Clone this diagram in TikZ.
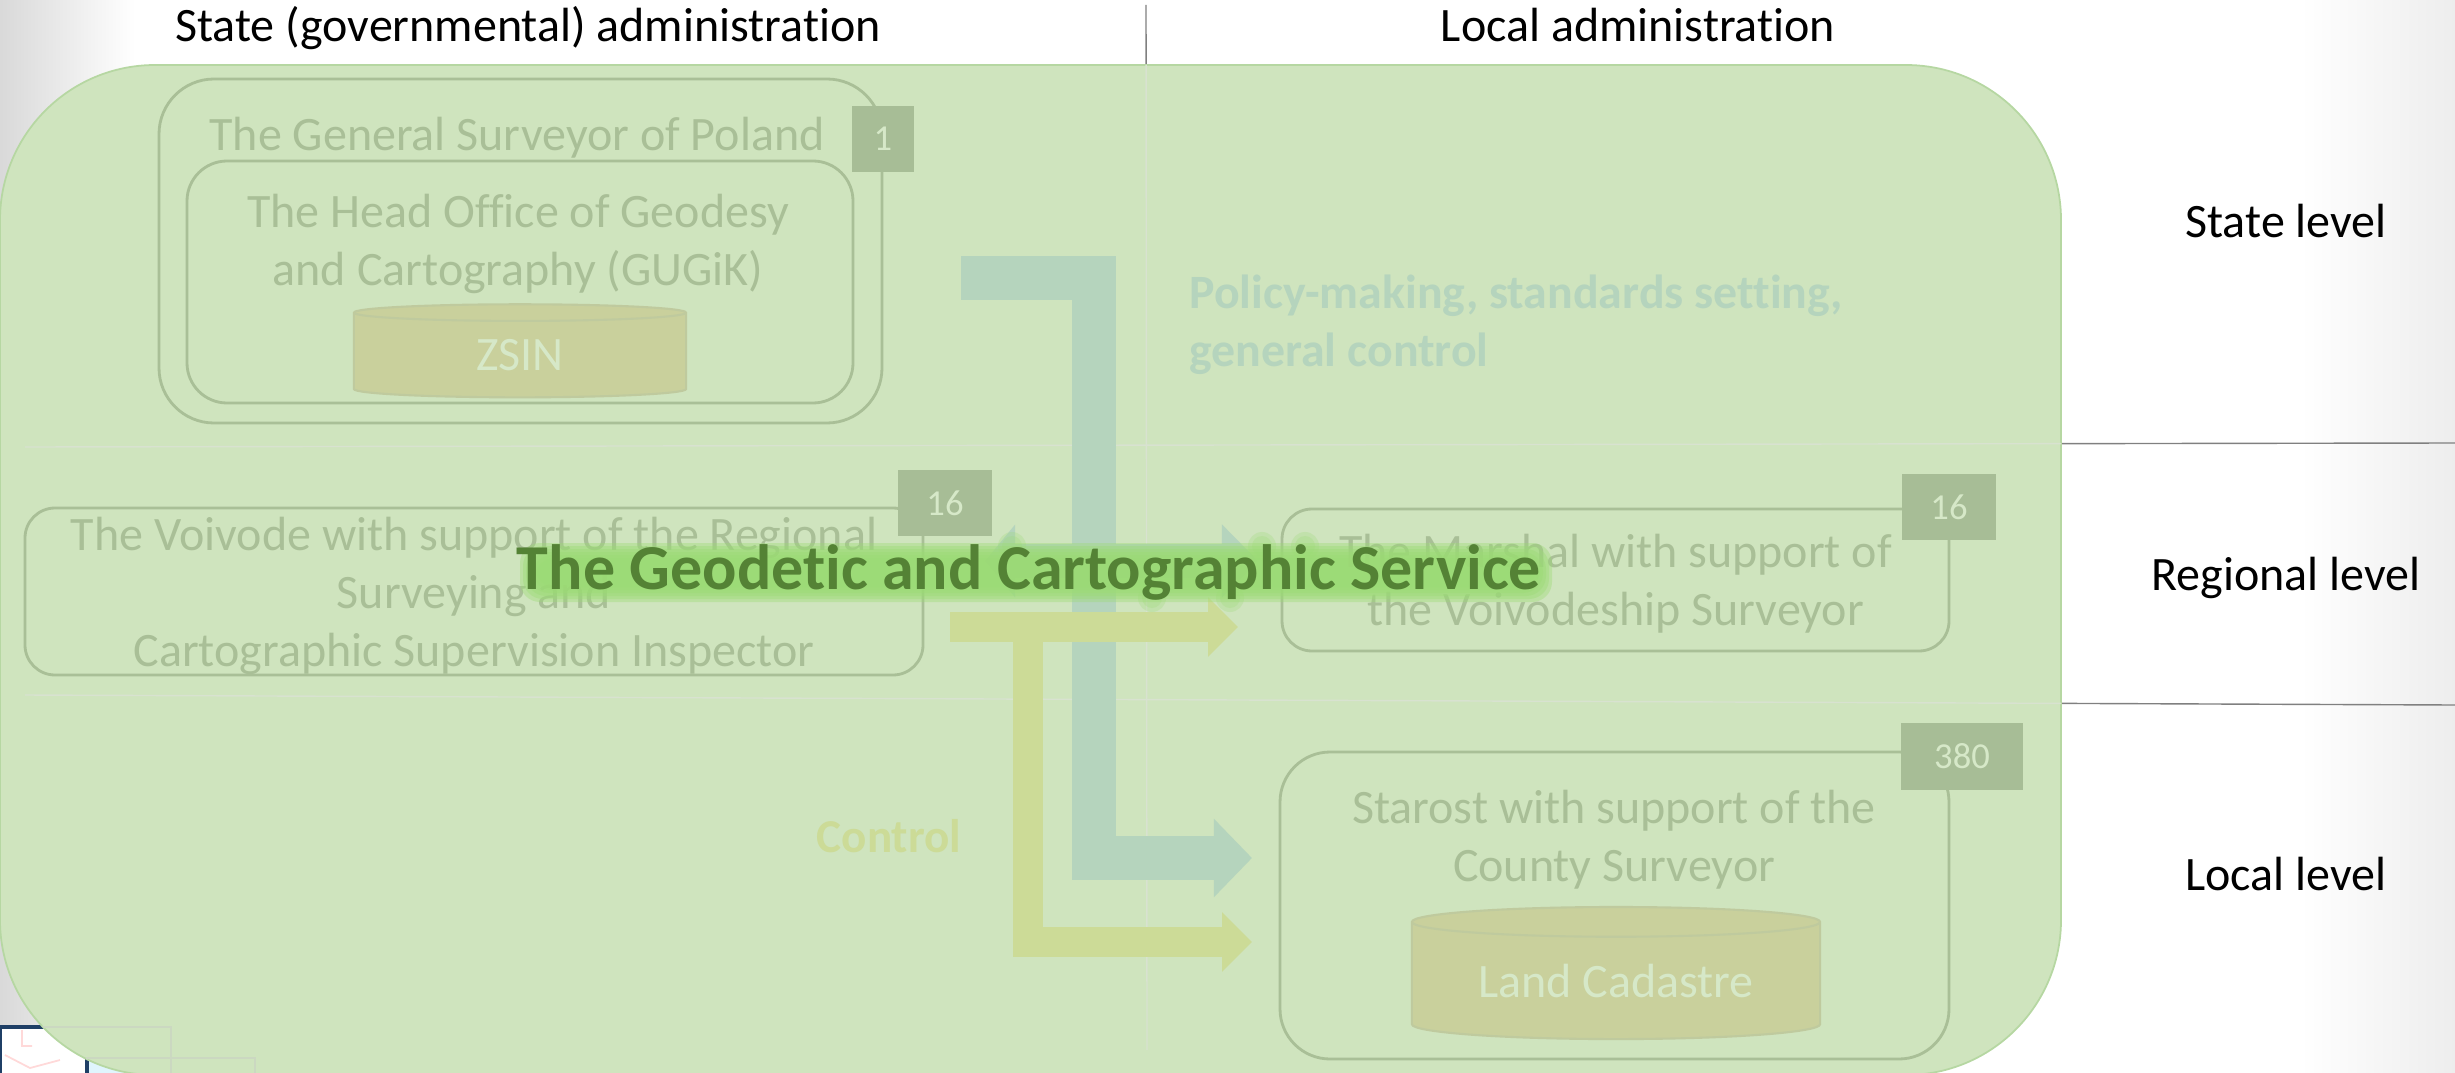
\documentclass[tikz,border=0pt]{standalone}
\usepackage{fontspec}
\setmainfont[Ligatures=NoCommon]{Carlito}
\usetikzlibrary{arrows.meta,shapes.geometric}
\definecolor{panelgreen}{HTML}{CFE4BE}
\definecolor{paneledge}{HTML}{B6D7A2}
\definecolor{fadedtext}{HTML}{A9BF97}
\definecolor{badgegreen}{HTML}{A7BD96}
\definecolor{badgetext}{HTML}{D6E8C8}
\definecolor{drumfill}{HTML}{C9D09C}
\definecolor{drumedge}{HTML}{BFCA9E}
\definecolor{policyteal}{HTML}{B5D4BD}
\definecolor{controlyellow}{HTML}{CCDB97}
\definecolor{titlegreen}{HTML}{548235}
\definecolor{glowgreen}{HTML}{9BDB74}
\definecolor{thumbnavy}{HTML}{1F3F66}
\tikzset{
  bodyfont/.style={font=\fontsize{13.65}{16.5}\selectfont},
  headtext/.style={bodyfont, text=black},
  fadetext/.style={bodyfont, text=fadedtext, align=center},
  officebox/.style={draw=fadedtext, line width=0.8pt},
  countbadge/.style={fill=badgegreen, draw=none},
  counttext/.style={font=\fontsize{10.4}{12}\selectfont, text=badgetext},
  drum/.style={cylinder, shape border rotate=90, draw=drumedge, line width=0.6pt,
    cylinder uses custom fill, cylinder body fill=drumfill, cylinder end fill=drumfill,
    inner sep=0pt, bodyfont, text=badgetext},
  policyarrow/.style={draw=policyteal, line width=0.44cm, -{Triangle[length=0.38cm,width=0.76cm]}},
  controlarrow/.style={draw=controlyellow, line width=0.3cm, -{Triangle[length=0.3cm,width=0.58cm]}},
}
\begin{document}
\begin{tikzpicture}[x=0.01cm,y=-0.01cm]
  \useasboundingbox (0,0) rectangle (2455,1073);
  \clip (0,0) rectangle (2455,1073);
  % page behind the panel
  \fill[left color=black!15, right color=white] (0,0) rectangle (135,1073);
  \fill[left color=white, right color=black!7] (2300,0) rectangle (2455,1073);
  \draw[thumbnavy, line width=1pt, fill=white] (0,1027) rectangle (171,1090);
  \draw[red!15, line width=0.5pt] (5,1055) -- (30,1068) -- (60,1060) (22,1030) -- (22,1046) -- (32,1046);
  \draw[thumbnavy, line width=1pt, fill=cyan!12] (87,1058) rectangle (255,1090);
  \coordinate (vtop) at (1146,5);
  \coordinate (vend) at (1147,1050);
  \coordinate (statewest) at (25,447);
  \coordinate (stateeast) at (2455,443);
  \coordinate (localwest) at (25,695);
  \coordinate (localeast) at (2455,705);
  \draw[black!50, line width=0.4pt] (vtop) -- (vend);
  \draw[black!50, line width=0.4pt] (statewest) -- (stateeast);
  \draw[black!50, line width=0.4pt] (localwest) -- (localeast);

  % panel
  \draw[fill=panelgreen, draw=paneledge, line width=0.5pt, rounded corners=1.55cm] (0,65) rectangle (2061,1075);
  \begin{scope}
    \clip[rounded corners=1.55cm] (0,65) rectangle (2061,1075);
    \draw[fadedtext!45, line width=0.4pt] (vtop) -- (vend);
    \draw[fadedtext!45, line width=0.4pt] (statewest) -- (stateeast);
    \draw[fadedtext!45, line width=0.4pt] (localwest) -- (localeast);
    \draw[fadedtext!60, line width=0.8pt] (0,1027) rectangle (171,1090);
    \draw[fadedtext!60, line width=0.8pt] (87,1058) rectangle (255,1090);
  \end{scope}

  \node[headtext] (statehead) at (528,28.5) {State (governmental) administration};
  \node[headtext] (localhead) at (1638,25.5) {Local administration};
  \node[headtext] (statelevel) at (2286,221) {State level};
  \node[headtext] (regionlevel) at (2286,578) {Regional level};
  \node[headtext] (locallevel) at (2286,874) {Local level};

  % state level
  \draw[officebox, rounded corners=0.55cm] (159,79) rectangle node[midway] (surveyorbox) {} (882,423);
  \draw[officebox, rounded corners=0.4cm] (187,161) rectangle node[midway] (gugikbox) {} (853,403);
  \node[fadetext] (surveyor) at (517,138) {The General Surveyor of Poland};
  \node[fadetext] (gugik) at (518,244) {The Head Office of Geodesy\\and Cartography (GUGiK)};
  \node[drum, aspect=0.19, minimum width=3.32cm, minimum height=0.93cm] (zsin) at (520,355.5) {ZSIN};
  \draw[countbadge] (852,106) rectangle node[midway, counttext] (surveyorcount) {1} (914,172);

  % regional level
  \draw[officebox, rounded corners=0.3cm] (25,508) rectangle
    node[midway, fadetext, yshift=-0.04cm] (voivode) {The Voivode with support of the Regional\\Surveying and\\Cartographic Supervision Inspector} (923,675);
  \draw[countbadge] (898,470) rectangle node[midway, counttext] (voivodecount) {16} (992,536);
  \draw[officebox, rounded corners=0.3cm] (1282,509) rectangle
    node[midway, fadetext, yshift=-0.04cm] (marshal) {The Marshal with support of\\the Voivodeship Surveyor} (1949,651);
  \draw[countbadge] (1902,474) rectangle node[midway, counttext] (marshalcount) {16} (1996,540);

  % local level
  \draw[officebox, rounded corners=0.5cm] (1280,752) rectangle node[midway] (starostbox) {} (1949,1059);
  \node[fadetext] (starost) at (1614,840) {Starost with support of the\\County Surveyor};
  \node[drum, aspect=0.108, minimum width=4.08cm, minimum height=1.32cm] (cadastre) at (1616,981) {Land Cadastre};
  \draw[countbadge] (1901,723) rectangle node[midway, counttext] (starostcount) {380} (2023,790);

  % arrows
  \coordinate (policystart) at (961,278);
  \coordinate (policybend) at (1094,278);
  \coordinate (policycorner) at (1094,858);
  \coordinate (policyend) at (1252,858);
  \coordinate (linkwest) at (985,561);
  \coordinate (linkeast) at (1258,561);
  \coordinate (controlstart) at (950,627);
  \coordinate (controlend) at (1238,627);
  \coordinate (controlbend) at (1028,627);
  \coordinate (controlcorner) at (1028,942);
  \coordinate (controlfoot) at (1252,942);
  \draw[policyarrow] (policystart) -- (policybend) -- (policycorner) -- (policyend);
  \draw[draw=policyteal, line width=0.34cm, {Triangle[length=0.3cm,width=0.71cm]}-{Triangle[length=0.36cm,width=0.71cm]}] (linkwest) -- (linkeast);
  \draw[controlarrow] (controlstart) -- (controlend);
  \draw[controlarrow] (controlbend) -- (controlcorner) -- (controlfoot);

  \node[font=\fontsize{13.6}{16.5}\selectfont\bfseries, text=policyteal, align=left, anchor=west] (policy) at (1177,325) {Policy-making, standards setting,\\general control};
  \node[font=\fontsize{13.4}{16.5}\selectfont\bfseries, text=controlyellow] (control) at (889,836) {Control};

  % glow behind the title
  \foreach \g in {0,3,...,15} {
    \fill[glowgreen, opacity=0.38, rounded corners=0.2cm] (520+\g,543+\g) rectangle (1552-\g,602-\g);
  }
  \foreach \gx/\gy in {1152/598,1230/598,1012/546,1262/546,1305/546} {
    \fill[glowgreen, opacity=0.25] (\gx,\gy) circle [radius=0.1cm];
    \fill[glowgreen, opacity=0.25] (\gx,\gy) circle [radius=0.14cm];
  }
  \node[font=\fontsize{18.2}{20}\selectfont\bfseries, text=titlegreen] (title) at (1029,572) {The Geodetic and Cartographic Service};
\end{tikzpicture}
\end{document}
